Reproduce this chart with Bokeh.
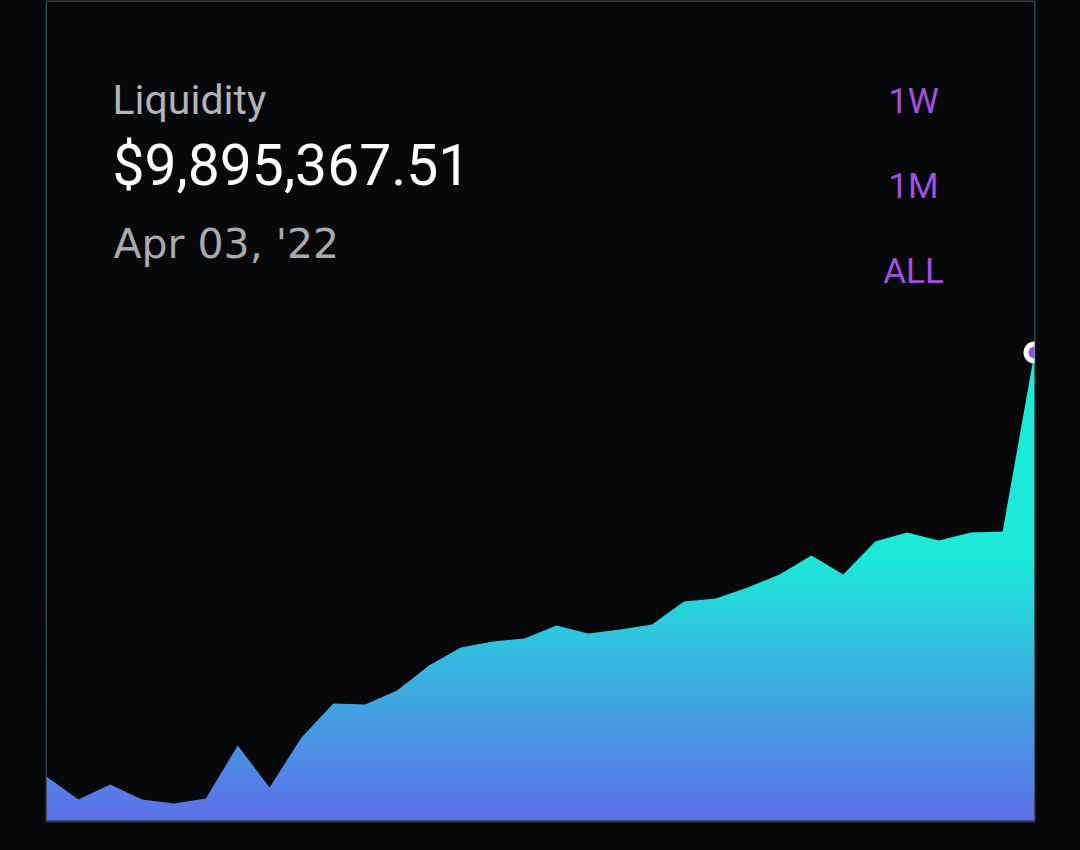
import numpy as np
from bokeh.plotting import figure
from bokeh.models import Range1d
from bokeh.core.properties import value
from bokeh.embed import file_html
from bokeh.resources import INLINE

# ---- data ----
idx = list(range(32))
liquidity = [930000, 444000, 761000, 444000, 359000, 465000, 1586000, 698000,
             1755000, 2474000, 2453000, 2749000, 3277000, 3658000, 3785000, 3848000,
             4123000, 3954000, 4039000, 4144000, 4631000, 4694000, 4927000, 5201000,
             5603000, 5201000, 5899000, 6090000, 5920000, 6090000, 6111000, 9895367.51]
title_text = "Liquidity"
date_text = "Apr 03, '22"
buttons = ["1W", "1M", "ALL"]

BG = "#07080a"
FONT = "Roboto"

# ---- geometry (page pixels) ----
FIG_W, FIG_H = 1064, 834
FRAME_L, FRAME_R = 46, 1034
FRAME_T, FRAME_B = 1, 821
BASE_Y = 820                    # page y of value 0
PEAK_Y = 352                    # page y of last value
s = liquidity[-1] / (BASE_Y - PEAK_Y)   # dollars per pixel
x0, x1 = 0, len(idx) - 1
y0 = -(FRAME_B - BASE_Y) * s
y1 = (BASE_Y - FRAME_T) * s


def px(xp, yp):
    xd = x0 + (xp - FRAME_L) / (FRAME_R - FRAME_L) * (x1 - x0)
    yd = (BASE_Y - yp) * s
    return xd, yd


p = figure(frame_width=FRAME_R - FRAME_L, frame_height=FRAME_B - FRAME_T,
           x_range=Range1d(x0, x1), y_range=Range1d(y0, y1),
           output_backend="svg", toolbar_location=None,
           background_fill_color=BG, border_fill_color=BG)
p.min_border = 0
p.min_border_left = FRAME_L
p.min_border_right = FIG_W - FRAME_R
p.min_border_top = FRAME_T
p.min_border_bottom = FIG_H - FRAME_B
p.xaxis.visible = False
p.yaxis.visible = False
p.grid.visible = False
p.outline_line_color = "#38393d"
p.outline_line_width = 2

# ---- gradient image (rows from bottom) ----
H = FRAME_B - FRAME_T
top_c = np.array([29, 233, 217], dtype=float)
bot_c = np.array([93, 112, 232], dtype=float)
rows = np.arange(H)
page_y = FRAME_B - 0.5 - rows
t = np.clip((BASE_Y - page_y) / (BASE_Y - 560), 0, 1)[:, None]
cols = bot_c + t * (top_c - bot_c)
img = np.zeros((H, 2), dtype=np.uint32)
view = img.view(dtype=np.uint8).reshape((H, 2, 4))
view[:, :, 0] = cols[:, 0:1].astype(np.uint8)
view[:, :, 1] = cols[:, 1:2].astype(np.uint8)
view[:, :, 2] = cols[:, 2:3].astype(np.uint8)
view[:, :, 3] = 255
p.image_rgba(image=[img], x=x0, y=0, dw=x1 - x0, dh=y1)

# mask above the line
p.varea(x=idx, y1=liquidity, y2=[y1] * len(idx), fill_color=BG)

# endpoint marker
p.scatter(x=[idx[-1]], y=[liquidity[-1]], size=22, fill_color="white", line_color=None)
p.scatter(x=[idx[-1]], y=[liquidity[-1]], size=12, fill_color="#8a57d6", line_color=None)

# ---- texts ----
tx, ty = px(112, 99)
p.text(x=[tx], y=[ty], text=[title_text], text_font=value(FONT),
       text_font_size=value("41px"), text_color="#b3b3b8", text_baseline="alphabetic")
tx, ty = px(112, 165)
p.text(x=[tx], y=[ty], text=[f"${liquidity[-1]:,.2f}"], text_font=value(FONT),
       text_font_size=value("57px"), text_color="#ffffff", text_baseline="alphabetic")
tx, ty = px(113, 243)
p.text(x=[tx], y=[ty], text=[date_text], text_font=value("DejaVu Sans"),
       text_font_size=value("41px"), text_color="#a9a9ae", text_baseline="alphabetic")

bxs, bys = [], []
for by in (101, 186, 271):
    a, b = px(913, by)
    bxs.append(a)
    bys.append(b)
p.text(x=bxs, y=bys, text=buttons, text_font=value(FONT), text_font_size=value("35px"),
       text_color="#a34fe0", text_align="center", text_baseline="alphabetic")

html = file_html(p, INLINE)
html = html.replace("</head>", "<style>html,body{background:%s;}</style></head>" % BG, 1)
open("out.html", "w").write(html)
